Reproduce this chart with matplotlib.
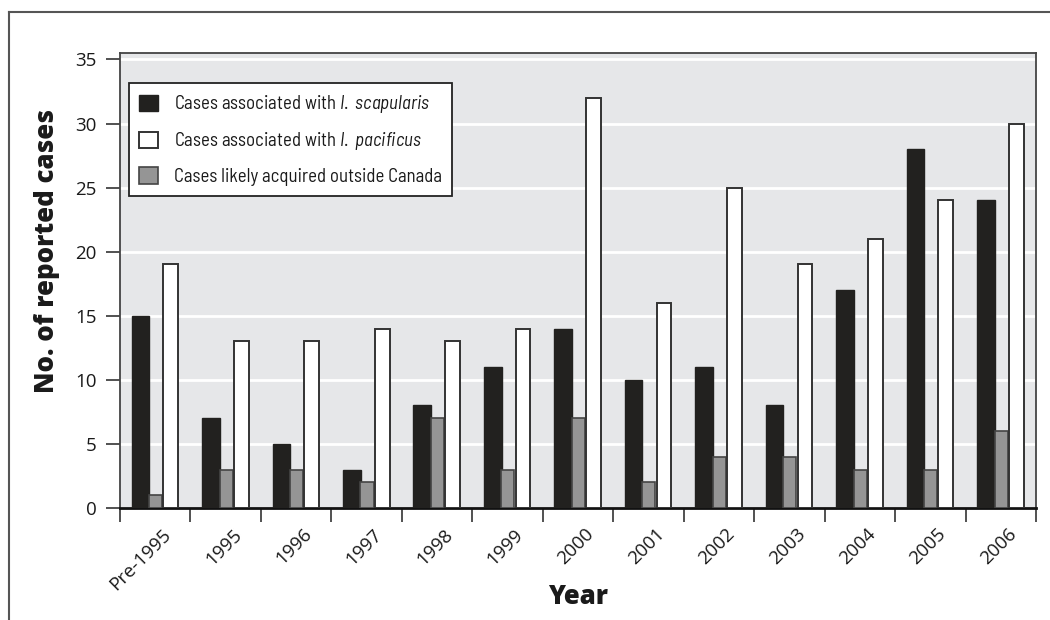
import matplotlib
matplotlib.use("Agg")
import matplotlib.pyplot as plt
import matplotlib.transforms as mtransforms
import numpy as np
from matplotlib.lines import Line2D

plt.rcParams['font.family'] = ['Open Sans', 'DejaVu Sans']
plt.rcParams['mathtext.fontset'] = 'custom'
plt.rcParams['mathtext.rm'] = 'Barlow Semi Condensed'
plt.rcParams['mathtext.it'] = 'Barlow Semi Condensed:italic'

years = ['Pre-1995', '1995', '1996', '1997', '1998', '1999', '2000',
         '2001', '2002', '2003', '2004', '2005', '2006']
scapularis = [15, 7, 5, 3, 8, 11, 14, 10, 11, 8, 17, 28, 24]
outside = [1, 3, 3, 2, 7, 3, 7, 2, 4, 4, 3, 3, 6]
pacificus = [19, 13, 13, 14, 13, 14, 32, 16, 25, 19, 21, 24, 30]

fig = plt.figure(figsize=(10.5, 6.2), dpi=100)
ax = fig.add_axes([0.1143, 0.1806, 0.8724, 0.7339])
ax.set_facecolor('#e6e7e9')

x = np.arange(len(years))
b1 = ax.bar(x - 0.21, scapularis, 0.25, color='#22211f', edgecolor='#22211f', lw=1, zorder=3)
b3 = ax.bar(x + 0.005, outside, 0.185, color='#959595', edgecolor='#444444', lw=1.2, zorder=3)
b2 = ax.bar(x + 0.22, pacificus, 0.21, color='white', edgecolor='#333333', lw=1.4, zorder=3)

ax.set_xlim(-0.5, len(years) - 0.5)
ax.set_ylim(0, 35.5)
ax.set_yticks(range(0, 36, 5))
ax.yaxis.grid(True, color='white', lw=2)
ax.set_axisbelow(True)

ax.set_xticks(x)
ax.set_xticklabels(years, rotation=45, ha='right', va='center',
                   rotation_mode='anchor', fontsize=13.5, color='#1a1a1a')
ax.set_xticks(np.arange(-0.5, len(years)), minor=True)
ax.tick_params(axis='x', which='major', length=0, pad=17)
ax.tick_params(axis='x', which='minor', length=10, width=1.2, color='#333333', direction='out')
ax.tick_params(axis='y', length=10, width=1.2, color='#333333', labelsize=13.5,
               labelcolor='#1a1a1a', pad=7)
shift = mtransforms.ScaledTranslation(0.13, 0, fig.dpi_scale_trans)
for lab in ax.get_xticklabels():
    lab.set_transform(lab.get_transform() + shift)

for s in ['top', 'right', 'left']:
    ax.spines[s].set_color('#444444')
    ax.spines[s].set_linewidth(1.3)
ax.spines['bottom'].set_color('#111111')
ax.spines['bottom'].set_linewidth(2)

ax.set_xlabel('Year', fontsize=18.5, fontweight='heavy', color='#1a1a1a')
ax.xaxis.set_label_coords(0.5, -0.168)
ax.set_ylabel('No. of reported cases', fontsize=18.5, fontweight='heavy', color='#1a1a1a')
ax.yaxis.set_label_coords(-0.066, 0.565)

leg = ax.legend([b1, b2, b3],
                [r'Cases associated with $\mathit{I.\ scapularis}$',
                 r'Cases associated with $\mathit{I.\ pacificus}$',
                 'Cases likely acquired outside Canada'],
                loc='upper left', bbox_to_anchor=(0.0098, 0.934),
                prop=dict(family='Barlow Semi Condensed', size=13.5),
                frameon=True, fancybox=False, edgecolor='#222222',
                handlelength=1.0, handleheight=0.95, labelspacing=0.8,
                borderpad=0.55, handletextpad=0.85, borderaxespad=0)
leg.get_frame().set_linewidth(1.3)
leg.get_frame().set_alpha(1)
for t in leg.get_texts():
    t.set_color('#1a1a1a')

# outer frame (top and left edges visible)
fig.add_artist(Line2D([9 / 1050, 9 / 1050], [0, 1 - 12 / 620], color='#555555', lw=1.5))
fig.add_artist(Line2D([9 / 1050, 1], [1 - 12 / 620, 1 - 12 / 620], color='#555555', lw=1.5))

fig.savefig('out.png', dpi=100)
